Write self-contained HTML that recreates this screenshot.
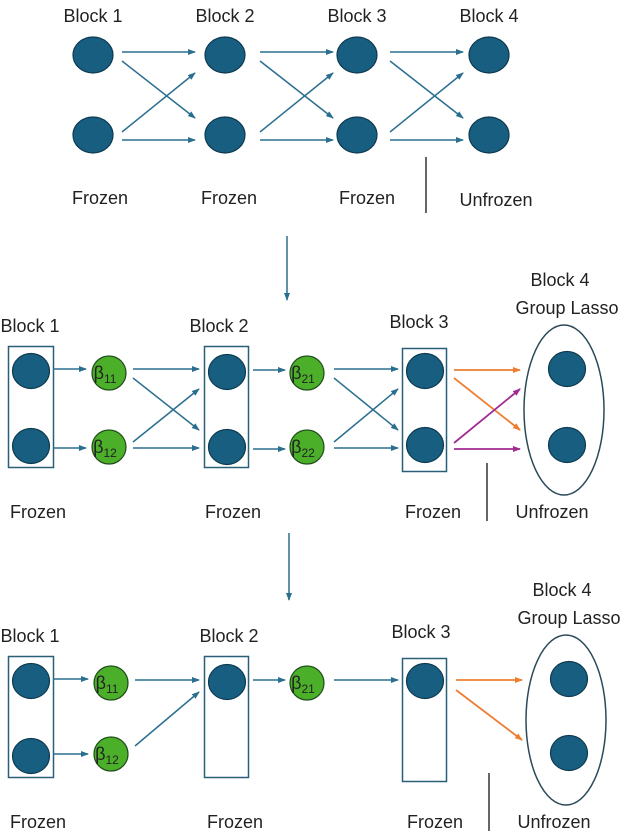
<!DOCTYPE html>
<html><head><meta charset="utf-8"><style>
html,body{margin:0;padding:0;background:#fff}
svg text{font-family:"Liberation Sans",sans-serif;fill:#222}
</style></head><body>
<svg width="628" height="831" viewBox="0 0 628 831" xmlns="http://www.w3.org/2000/svg">
<defs>
<marker id="ab" markerWidth="8" markerHeight="8" refX="7" refY="4" orient="auto" markerUnits="userSpaceOnUse"><path d="M0,1 L8,4 L0,7 z" fill="#2a6f8f"/></marker>
<marker id="ao" markerWidth="8" markerHeight="8" refX="7" refY="4" orient="auto" markerUnits="userSpaceOnUse"><path d="M0,1 L8,4 L0,7 z" fill="#ed7d31"/></marker>
<marker id="ap" markerWidth="8" markerHeight="8" refX="7" refY="4" orient="auto" markerUnits="userSpaceOnUse"><path d="M0,1 L8,4 L0,7 z" fill="#a02b93"/></marker>
</defs>
<g font-size="18" text-anchor="middle">
<!-- TOP -->
<text x="93" y="22">Block 1</text><text x="225" y="22">Block 2</text><text x="357" y="22">Block 3</text><text x="489" y="22">Block 4</text>
<g fill="#175e80" stroke="#0e3a50" stroke-width="1.2">
<ellipse cx="93" cy="55" rx="20" ry="18"/><ellipse cx="93" cy="135" rx="20" ry="18"/>
<ellipse cx="225" cy="55" rx="20" ry="18"/><ellipse cx="225" cy="135" rx="20" ry="18"/>
<ellipse cx="357" cy="55" rx="20" ry="18"/><ellipse cx="357" cy="135" rx="20" ry="18"/>
<ellipse cx="489" cy="55" rx="20" ry="18"/><ellipse cx="489" cy="135" rx="20" ry="18"/>
</g>
<g stroke="#2a6f8f" stroke-width="1.5" marker-end="url(#ab)">
<line x1="122" y1="52" x2="195" y2="52"/><line x1="122" y1="140" x2="195" y2="140"/>
<line x1="122" y1="61" x2="195" y2="118"/><line x1="122" y1="132" x2="195" y2="73"/>
<line x1="260" y1="52" x2="333" y2="52"/><line x1="260" y1="140" x2="333" y2="140"/>
<line x1="260" y1="61" x2="333" y2="118"/><line x1="260" y1="132" x2="333" y2="73"/>
<line x1="390" y1="52" x2="463" y2="52"/><line x1="390" y1="140" x2="463" y2="140"/>
<line x1="390" y1="61" x2="463" y2="118"/><line x1="390" y1="132" x2="463" y2="73"/>
</g>
<text x="100" y="204">Frozen</text><text x="229" y="204">Frozen</text><text x="367" y="204">Frozen</text><text x="496" y="206">Unfrozen</text>
<line x1="426" y1="157" x2="426" y2="213" stroke="#333" stroke-width="1.5"/>
<line x1="287" y1="236" x2="287" y2="300" stroke="#2a6f8f" stroke-width="1.5" marker-end="url(#ab)"/>

<!-- MIDDLE -->
<g id="mid">
<text x="30" y="332">Block 1</text><text x="219" y="332">Block 2</text><text x="419" y="328">Block 3</text>
<text x="560" y="286">Block 4</text><text x="567" y="314">Group Lasso</text>
<g fill="none" stroke="#2a5f78" stroke-width="1.5">
<rect x="8.5" y="346.5" width="45" height="121"/><rect x="204.5" y="346.5" width="44" height="121"/><rect x="402.5" y="348.5" width="44" height="123"/>
</g>
<ellipse cx="564" cy="410" rx="40" ry="85" fill="none" stroke="#2a4a5a" stroke-width="1.5"/>
<g fill="#175e80" stroke="#0e3a50" stroke-width="1.2">
<ellipse cx="31" cy="371" rx="18.5" ry="17.5"/><ellipse cx="31" cy="446" rx="18.5" ry="17.5"/>
<ellipse cx="227" cy="372" rx="18.5" ry="17.5"/><ellipse cx="227" cy="447" rx="18.5" ry="17.5"/>
<ellipse cx="425" cy="371" rx="18.5" ry="17.5"/><ellipse cx="425" cy="445" rx="18.5" ry="17.5"/>
<ellipse cx="567" cy="369" rx="18.5" ry="17.5"/><ellipse cx="567" cy="445" rx="18.5" ry="17.5"/>
</g>
<g fill="#4caf2a" stroke="#1f4d1a" stroke-width="1.2">
<circle cx="109" cy="373" r="17"/><circle cx="109" cy="447" r="17"/>
<circle cx="307" cy="373" r="17"/><circle cx="307" cy="447" r="17"/>
</g>
<g font-size="18"><text x="105" y="379">β<tspan font-size="12" dy="4">11</tspan></text><text x="105" y="453">β<tspan font-size="12" dy="4">12</tspan></text>
<text x="303" y="379">β<tspan font-size="12" dy="4">21</tspan></text><text x="303" y="453">β<tspan font-size="12" dy="4">22</tspan></text></g>
<g stroke="#2a6f8f" stroke-width="1.5" marker-end="url(#ab)">
<line x1="53" y1="369" x2="86" y2="369"/><line x1="53" y1="448" x2="86" y2="448"/>
<line x1="133" y1="369" x2="199" y2="369"/><line x1="133" y1="448" x2="199" y2="448"/>
<line x1="133" y1="378" x2="199" y2="430"/><line x1="133" y1="442" x2="199" y2="389"/>
<line x1="253" y1="370" x2="285" y2="370"/><line x1="253" y1="449" x2="285" y2="449"/>
<line x1="334" y1="369" x2="398" y2="369"/><line x1="334" y1="448" x2="398" y2="448"/>
<line x1="334" y1="378" x2="398" y2="430"/><line x1="334" y1="442" x2="398" y2="389"/>
</g>
<line x1="454" y1="370" x2="520" y2="370" stroke="#ed7d31" stroke-width="1.8" marker-end="url(#ao)"/>
<line x1="454" y1="378" x2="520" y2="430" stroke="#ed7d31" stroke-width="1.8" marker-end="url(#ao)"/>
<line x1="454" y1="443" x2="520" y2="389" stroke="#a02b93" stroke-width="1.8" marker-end="url(#ap)"/>
<line x1="454" y1="449" x2="520" y2="449" stroke="#a02b93" stroke-width="1.8" marker-end="url(#ap)"/>
<text x="38" y="518">Frozen</text><text x="233" y="518">Frozen</text><text x="433" y="518">Frozen</text><text x="552" y="518">Unfrozen</text>
<line x1="487" y1="463" x2="487" y2="521" stroke="#333" stroke-width="1.5"/>
</g>
<line x1="289" y1="533" x2="289" y2="600" stroke="#2a6f8f" stroke-width="1.5" marker-end="url(#ab)"/>

<!-- BOTTOM -->
<g transform="translate(0,310)">
<text x="30" y="332">Block 1</text><text x="229" y="332">Block 2</text><text x="421" y="328">Block 3</text>
<text x="562" y="286">Block 4</text><text x="569" y="314">Group Lasso</text>
<g fill="none" stroke="#2a5f78" stroke-width="1.5">
<rect x="8.5" y="346.5" width="45" height="121"/><rect x="204.5" y="346.5" width="44" height="121"/><rect x="402.5" y="348.5" width="44" height="123"/>
</g>
<ellipse cx="566" cy="410" rx="40" ry="85" fill="none" stroke="#2a4a5a" stroke-width="1.5"/>
<g fill="#175e80" stroke="#0e3a50" stroke-width="1.2">
<ellipse cx="31" cy="371" rx="18.5" ry="17.5"/><ellipse cx="31" cy="446" rx="18.5" ry="17.5"/>
<ellipse cx="227" cy="372" rx="18.5" ry="17.5"/>
<ellipse cx="425" cy="371" rx="18.5" ry="17.5"/>
<ellipse cx="569" cy="369" rx="18.5" ry="17.5"/><ellipse cx="569" cy="443" rx="18.5" ry="17.5"/>
</g>
<g fill="#4caf2a" stroke="#1f4d1a" stroke-width="1.2">
<circle cx="111" cy="373" r="17"/><circle cx="111" cy="444" r="17"/>
<circle cx="307" cy="373" r="17"/>
</g>
<g font-size="18"><text x="107" y="379">β<tspan font-size="12" dy="4">11</tspan></text><text x="107" y="450">β<tspan font-size="12" dy="4">12</tspan></text>
<text x="303" y="379">β<tspan font-size="12" dy="4">21</tspan></text></g>
<g stroke="#2a6f8f" stroke-width="1.5" marker-end="url(#ab)">
<line x1="53" y1="369" x2="88" y2="369"/><line x1="53" y1="444" x2="88" y2="444"/>
<line x1="135" y1="370" x2="199" y2="370"/><line x1="135" y1="436" x2="199" y2="382"/>
<line x1="253" y1="370" x2="285" y2="370"/>
<line x1="334" y1="370" x2="398" y2="370"/>
</g>
<line x1="456" y1="370" x2="522" y2="370" stroke="#ed7d31" stroke-width="1.8" marker-end="url(#ao)"/>
<line x1="456" y1="380" x2="522" y2="430" stroke="#ed7d31" stroke-width="1.8" marker-end="url(#ao)"/>
<text x="38" y="518">Frozen</text><text x="235" y="518">Frozen</text><text x="435" y="518">Frozen</text><text x="554" y="518">Unfrozen</text>
<line x1="489" y1="463" x2="489" y2="521" stroke="#333" stroke-width="1.5"/>
</g>
</g>
</svg>
</body></html>
